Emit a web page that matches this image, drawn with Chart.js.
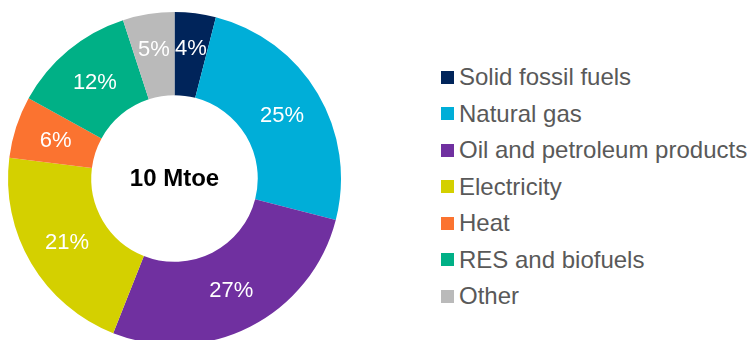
<!DOCTYPE html>
<html>
<head>
<meta charset="utf-8">
<script src="https://cdn.jsdelivr.net/npm/chart.js@4/dist/chart.umd.min.js"></script>
<style>
    html, body {
        margin: 0;
        padding: 0;
        background: #fff;
        overflow: hidden;
        width: 748px;
        height: 340px;
    }
    #wrap {
        position: relative;
        width: 748px;
        height: 340px;
        overflow: hidden;
    }
    #energyChart {
        position: absolute;
        left: 0;
        top: 0;
    }
    #legend {
        position: absolute;
        left: 441px;
        top: 59px;
        margin: 0;
        padding: 0;
        list-style: none;
        font-family: "Liberation Sans", Arial, sans-serif;
        font-size: 24px;
        color: #595959;
    }
    #legend li {
        display: flex;
        align-items: center;
        height: 36.5px;
        white-space: nowrap;
    }
    #legend .box {
        display: inline-block;
        width: 13px;
        height: 13px;
        margin-right: 5px;
    }
</style>
</head>
<body>
<div id="wrap">
    <canvas id="energyChart" width="350" height="360"></canvas>
    <ul id="legend"></ul>
</div>
<script>
// final energy consumption by fuel, shares in %
const fuels = ['Solid fossil fuels', 'Natural gas', 'Oil and petroleum products', 'Electricity', 'Heat', 'RES and biofuels', 'Other']
const shares = [4, 25, 27, 21, 6, 12, 5]
const fuelColors = ['#00245a', '#00aed8', '#7030a0', '#d4d000', '#fb7330', '#00b086', '#bababa']
const totalLabel = '10 Mtoe'

const chartDoughnut = document.getElementById('energyChart')

// writes the % value in the middle of every slice
// (thin slices get their label pushed a bit outwards so they don't touch)
const sliceLabels = {
    id: 'sliceLabels',
    afterDatasetsDraw(chart) {
        const ctx = chart.ctx
        const meta = chart.getDatasetMeta(0)
        ctx.save()
        ctx.font = '22px "Liberation Sans", Arial, sans-serif'
        ctx.fillStyle = '#ffffff'
        ctx.textAlign = 'center'
        ctx.textBaseline = 'middle'
        meta.data.forEach((arc, i) => {
            const value = chart.data.datasets[0].data[i]
            const { x, y, startAngle, endAngle, innerRadius, outerRadius } = arc.getProps(['x', 'y', 'startAngle', 'endAngle', 'innerRadius', 'outerRadius'])
            const mid = (startAngle + endAngle) / 2
            const k = value < 6 ? 0.58 : 0.5
            const r = innerRadius + (outerRadius - innerRadius) * k
            ctx.fillText(value + '%', x + Math.cos(mid) * r, y + Math.sin(mid) * r + 1)
        })
        ctx.restore()
    }
}

// total in the hole
const centerText = {
    id: 'centerText',
    afterDraw(chart) {
        const ctx = chart.ctx
        const arc = chart.getDatasetMeta(0).data[0]
        ctx.save()
        ctx.font = 'bold 24px "Liberation Sans", Arial, sans-serif'
        ctx.fillStyle = '#000000'
        ctx.textAlign = 'center'
        ctx.textBaseline = 'middle'
        ctx.fillText(totalLabel, arc.x, arc.y + 1)
        ctx.restore()
    }
}

const myChart = new Chart(chartDoughnut, {
    type: 'doughnut',
    data: {
        labels: fuels,
        datasets: [{
            data: shares,
            backgroundColor: fuelColors,
            borderWidth: 0,
            hoverOffset: 0,
            offset: 0
        }]
    },
    options: {
        responsive: false,
        animation: false,
        cutout: '50%',
        layout: {
            padding: { left: 8, right: 9, top: 12, bottom: 15 }
        },
        plugins: {
            legend: { display: false },
            tooltip: { enabled: false }
        }
    },
    plugins: [sliceLabels, centerText]
})

// legend list built from the chart's own label items
const legendList = document.getElementById('legend')
const items = myChart.options.plugins.legend.labels.generateLabels(myChart)
items.forEach(item => {
    const li = document.createElement('li')
    const box = document.createElement('span')
    box.className = 'box'
    box.style.background = item.fillStyle
    li.appendChild(box)
    li.appendChild(document.createTextNode(item.text))
    legendList.appendChild(li)
})
</script>
</body>
</html>
